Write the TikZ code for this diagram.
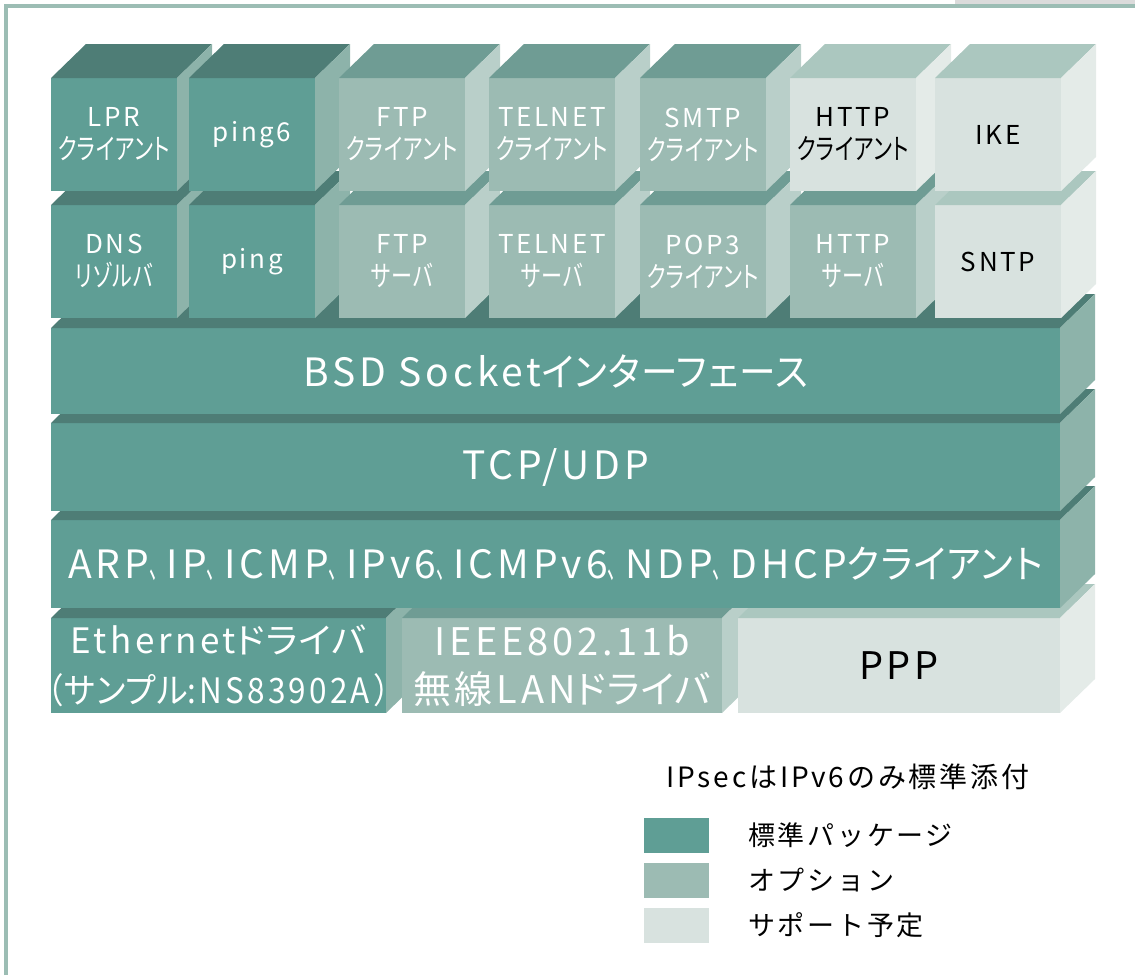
\documentclass[tikz,border=0pt]{standalone}
\usepackage{fontspec}
\usepackage{graphicx}
\newfontfamily\jp[LetterSpace=10]{Noto Sans CJK JP}
\newfontfamily\jpk[RawFeature=+palt, LetterSpace=3]{Noto Sans CJK JP}
\newcommand{\kanaw}{1}
\newcommand{\kanah}{1}
\newcommand{\kana}[1]{\scalebox{\kanaw}[\kanah]{\jpk #1}}
\newcommand{\tou}{\scalebox{0.45}[1]{、}}

\definecolor{stdfront}{HTML}{5F9E95}
\definecolor{stdtop}{HTML}{4E7D76}
\definecolor{stdside}{HTML}{8DB3AA}
\definecolor{optfront}{HTML}{9CBBB3}
\definecolor{opttop}{HTML}{6F9C94}
\definecolor{optside}{HTML}{B9CFC9}
\definecolor{planfront}{HTML}{D8E2DF}
\definecolor{plantop}{HTML}{ABC7BF}
\definecolor{planside}{HTML}{E4EBE8}
\definecolor{framecol}{HTML}{9CBDB4}

\tikzset{
  face/.style={inner sep=0pt, outer sep=0pt, anchor=north west, align=center},
  std/.style={face, fill=stdfront, text=white},
  opt/.style={face, fill=optfront, text=white},
  plan/.style={face, fill=planfront, text=black},
  boxtext/.style={font={\jp\fontsize{26}{33}\selectfont\def\kanaw{0.81}\def\kanah{1.1}}},
  bartext/.style={font={\jp\fontsize{39}{44}\selectfont\def\kanaw{0.94}}},
  drvtext/.style={font={\jp\fontsize{35}{50}\selectfont\def\kanaw{1.05}}},
  wlantext/.style={font={\jp\fontsize{38}{48}\selectfont\def\kanaw{1}}},
  keybox/.style={inner sep=0pt, outer sep=0pt, anchor=north west, minimum width=65pt, minimum height=35pt},
  keytext/.style={font={\jp\fontsize{27}{30}\selectfont}, anchor=west, inner sep=0pt}
}

% front face as node, then top and side faces
\newcommand{\cube}[7]{%
  \node[#2, #3, minimum width=#5pt, minimum height=#6pt] (#1) at (#4) {#7};
  \fill[#2top] (#1.north west) -- ++(35,-34) -- ([shift={(35,-34)}]#1.north east) -- (#1.north east) -- cycle;
  \fill[#2side] (#1.north east) -- ++(35,-34) -- ([shift={(35,-34)}]#1.south east) -- (#1.south east) -- cycle;
}

\begin{document}
\begin{tikzpicture}[x=1pt, y=-1pt]
\useasboundingbox (0,0) rectangle (1135,975);
\fill[black!14] (955,0) rectangle (1135,4);
\draw[framecol, line width=4pt] (5.5,975) -- (5.5,6) -- (1135,6);

% drivers
\cube{eth}{std}{drvtext}{51,618}{335}{95}{Ethernet\kana{ドライバ}\\\makebox[300pt]{\scalebox{0.9}[1]{（\kana{サンプル}:NS83902A）}}}
\cube{wlan}{opt}{wlantext}{402,618}{320}{95}{IEEE802.11b\\無線LAN\kana{ドライバ}}
\cube{ppp}{plan}{wlantext}{738,618}{322}{95}{PPP}

% protocol layers
\cube{ip}{std}{bartext}{51,520}{1009}{88}{ARP\tou IP\tou ICMP\tou IPv6\tou ICMPv6\tou NDP\tou DHCP\kana{クライアント}}
\cube{tcp}{std}{bartext}{51,423}{1009}{88}{TCP/UDP}
\cube{bsd}{std}{bartext}{51,328}{1009}{86}{BSD Socket\kana{インターフェース}}

% second row
\cube{dns}{std}{boxtext}{51,205}{126}{113}{DNS\\\kana{リゾルバ}}
\cube{ping}{std}{boxtext}{189,205}{126}{113}{ping}
\cube{ftps}{opt}{boxtext}{339,205}{126}{113}{FTP\\\kana{サーバ}}
\cube{telnets}{opt}{boxtext}{489,205}{126}{113}{TELNET\\\kana{サーバ}}
\cube{pop}{opt}{boxtext}{640,205}{126}{113}{POP3\\\kana{クライアント}}
\cube{https}{opt}{boxtext}{790,205}{126}{113}{HTTP\\\kana{サーバ}}
\cube{sntp}{plan}{boxtext}{935,205}{126}{113}{SNTP}

% top row
\cube{lpr}{std}{boxtext}{51,78}{126}{113}{LPR\\\kana{クライアント}}
\cube{ping6}{std}{boxtext}{189,78}{126}{113}{ping6}
\cube{ftpc}{opt}{boxtext}{339,78}{126}{113}{FTP\\\kana{クライアント}}
\cube{telnetc}{opt}{boxtext}{489,78}{126}{113}{TELNET\\\kana{クライアント}}
\cube{smtp}{opt}{boxtext}{640,78}{126}{113}{SMTP\\\kana{クライアント}}
\cube{httpc}{plan}{boxtext}{790,78}{126}{113}{HTTP\\\kana{クライアント}}
\cube{ike}{plan}{boxtext}{935,78}{126}{113}{IKE}

% legend
\node[keytext, font={\jp\fontsize{28}{30}\selectfont}, anchor=center] (note) at (848,777) {IPsecはIPv6のみ標準添付};
\node[keybox, fill=stdfront] (kstd) at (644,818) {};
\node[keybox, fill=optfront] (kopt) at (644,863) {};
\node[keybox, fill=planfront] (kplan) at (644,908) {};
\node[keytext] (lstd) at (748,835.5) {標準パッケージ};
\node[keytext] (lopt) at (748,880.5) {オプション};
\node[keytext] (lplan) at (748,925.5) {サポート予定};
\end{tikzpicture}
\end{document}
